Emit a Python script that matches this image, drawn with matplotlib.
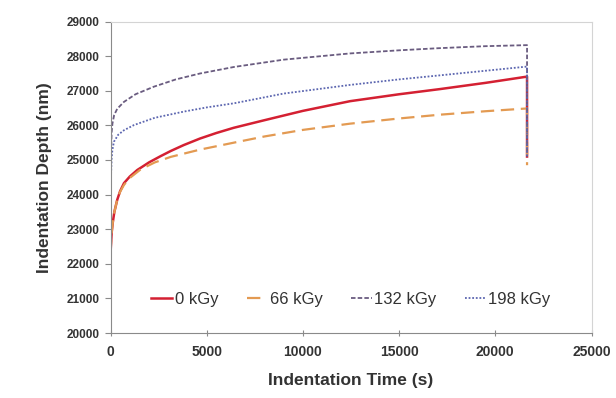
import matplotlib.pyplot as plt

plt.rcParams['font.family'] = ['Liberation Sans', 'DejaVu Sans']

# values (time in s, depth in nm)
t_0 = [0, 60, 120, 200, 350, 500, 700, 1000, 1390, 2000, 2600, 3130, 3800, 4650, 5500, 6400,
       8000, 10000, 12450, 15000, 17130, 19500, 21650, 21650]
d_0 = [22300, 22900, 23200, 23500, 23850, 24100, 24330, 24520, 24710, 24930, 25110, 25260,
       25430, 25620, 25780, 25930, 26150, 26420, 26700, 26900, 27050, 27230, 27410, 25100]

t_66 = [0, 60, 120, 200, 350, 500, 700, 1000, 1570, 2300, 3130, 4650, 6400, 8000, 10000,
        12450, 15000, 17130, 19500, 21650, 21650]
d_66 = [22300, 22900, 23200, 23500, 23850, 24080, 24280, 24480, 24730, 24930, 25090, 25300,
        25500, 25680, 25870, 26050, 26200, 26310, 26410, 26490, 24850]

t_132 = [0, 10, 30, 60, 100, 190, 350, 700, 1300, 2260, 3400, 4650, 6430, 9000, 12450,
         15000, 17000, 19500, 21650, 21650]
d_132 = [20000, 24300, 25300, 25800, 26050, 26300, 26480, 26680, 26900, 27120, 27330, 27500,
         27690, 27900, 28080, 28170, 28230, 28290, 28320, 25100]

t_198 = [0, 10, 30, 60, 100, 180, 400, 700, 1220, 2300, 3820, 5000, 6430, 9000, 12450,
         15000, 17000, 19500, 21650, 21650]
d_198 = [20000, 23500, 24600, 25050, 25300, 25530, 25730, 25860, 26010, 26220, 26400, 26520,
         26640, 26920, 27170, 27330, 27440, 27580, 27700, 25100]

labels = ['0 kGy', '66 kGy', '132 kGy', '198 kGy']
colors = ['#d42032', '#e39a52', '#6a5c80', '#5c66b0']

fig = plt.figure(figsize=(6.16, 3.98), dpi=100)
ax = fig.add_axes([110.5 / 616, 1 - 333 / 398, 481 / 616, 311.4 / 398])

ax.plot(t_0, d_0, color=colors[0], lw=1.8, label=labels[0])
ax.plot(t_66, d_66, color=colors[1], lw=1.6, ls=(0, (6, 3)), label=labels[1])
ax.plot(t_132, d_132, color=colors[2], lw=1.3, ls=(0, (2.5, 1.2)), label=labels[2])
ax.plot(t_198, d_198, color=colors[3], lw=1.3, ls=(0, (1, 1)), label=labels[3])

ax.set_xlim(0, 25000)
ax.set_ylim(20000, 29000)
ax.set_xticks(range(0, 25001, 5000))
ax.set_yticks(range(20000, 29001, 1000))

for s in ['left', 'bottom']:
    ax.spines[s].set_color('#8a8a8a')
for s in ['top', 'right']:
    ax.spines[s].set_color('#d4d4d4')

ax.tick_params(axis='x', direction='inout', length=5, color='#8a8a8a', labelsize=10, pad=6, labelcolor='#333333')
ax.tick_params(axis='y', direction='out', length=4, color='#8a8a8a', labelsize=8.5, pad=4, labelcolor='#333333')
for lab in ax.get_xticklabels() + ax.get_yticklabels():
    lab.set_fontweight('bold')

ax.set_xlabel('Indentation Time (s)', fontsize=12.5, fontweight='bold', color='#333333', labelpad=10)
ax.set_ylabel('Indentation Depth (nm)', fontsize=12.5, fontweight='bold', color='#333333', labelpad=10)

ax.legend(loc='lower center', bbox_to_anchor=(0.5, 0.035), ncol=4, frameon=False,
          fontsize=12, handlelength=1.25, handletextpad=0.15, columnspacing=1.7,
          labelcolor='#333333')

fig.savefig('out.png', dpi=100)
